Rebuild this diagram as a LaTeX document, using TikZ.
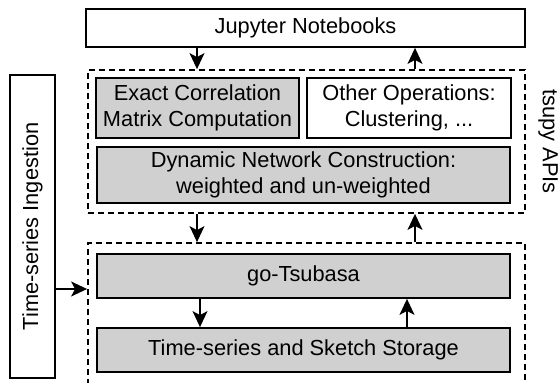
\documentclass[tikz,border=0pt]{standalone}
\usepackage{fontspec}
\setmainfont{Liberation Sans}
\usetikzlibrary{arrows.meta}
\definecolor{boxgray}{RGB}{208,208,208}
\tikzset{
  x=1pt, y=-1pt,
  box/.style={draw, line width=1.8pt, inner sep=0pt, align=center, font=\fontsize{21.8}{26}\selectfont},
  graybox/.style={box, fill=boxgray},
  dashbox/.style={draw, line width=1.8pt, dash pattern=on 6pt off 4pt, inner sep=0pt},
  arr/.style={line width=1.5pt, -{Stealth[length=16pt, width=15pt, inset=4pt]}},
  lbl/.style={inner sep=0pt, font=\fontsize{21.8}{26}\selectfont}
}
\begin{document}
\begin{tikzpicture}
\useasboundingbox (0,0) rectangle (560,383);
\clip (0,0) rectangle (560,383);
\node[box, minimum width=439pt, minimum height=38pt] (jup) at (305.5,28) {Jupyter Notebooks};
\node[dashbox, minimum width=437pt, minimum height=143pt] (upper) at (306.5,141.5) {};
\node[graybox, minimum width=203pt, minimum height=60pt] (exact) at (197.5,108) {Exact Correlation\\Matrix Computation};
\node[box, fill=white, minimum width=204pt, minimum height=60pt] (other) at (409,108) {Other Operations:\\Clustering, ...};
\node[graybox, minimum width=413pt, minimum height=56pt] (dyn) at (303.5,175) {Dynamic Network Construction:\\weighted and un-weighted};
\node[lbl, rotate=-90] (api) at (548,141.5) {tsupy APIs};
\node[dashbox, minimum width=437pt, minimum height=160pt] (lower) at (306.5,323) {};
\node[graybox, minimum width=413pt, minimum height=44pt] (go) at (303.5,276) {go-Tsubasa};
\node[graybox, minimum width=413pt, minimum height=44pt] (store) at (303.5,350) {Time-series and Sketch Storage};
\node[box, minimum width=45pt, minimum height=303pt] (ing) at (32.5,226.5) {};
\node[lbl, rotate=90] (ingl) at (ing.center) {Time-series Ingestion};
\coordinate (xl) at (197,0);
\coordinate (xr) at (415,0);
\coordinate (xgl) at (200,0);
\coordinate (xgr) at (407,0);
\coordinate (yi) at (0,289);
\draw[arr] (jup.south -| xl) -- (upper.north -| xl);
\draw[arr] (upper.north -| xr) -- (jup.south -| xr);
\draw[arr] (upper.south -| xl) -- (lower.north -| xl);
\draw[arr] (lower.north -| xr) -- (upper.south -| xr);
\draw[arr] (go.south -| xgl) -- (store.north -| xgl);
\draw[arr] (store.north -| xgr) -- (go.south -| xgr);
\draw[arr] (ing.east |- yi) -- (lower.west |- yi);
\end{tikzpicture}
\end{document}
